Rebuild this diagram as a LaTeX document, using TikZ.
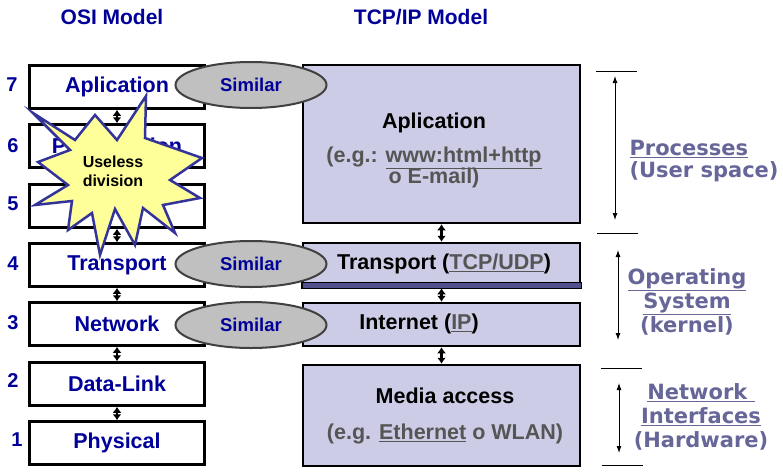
\documentclass[tikz,border=0pt]{standalone}
\usepackage{fontspec}
\setmainfont{Liberation Sans}
\newfontfamily\sidefont{DejaVu Sans}
\usepackage{tikz}
\usetikzlibrary{positioning,shapes.geometric,arrows.meta}

\definecolor{osiblue}{RGB}{0,0,153}
\definecolor{tcpfill}{RGB}{204,204,230}
\definecolor{tcpbar}{RGB}{80,80,140}
\definecolor{egray}{RGB}{85,85,85}
\definecolor{simfill}{RGB}{192,192,192}
\definecolor{simline}{RGB}{64,64,64}
\definecolor{burstfill}{RGB}{255,255,153}
\definecolor{burstline}{RGB}{51,51,153}
\definecolor{sidetext}{RGB}{102,102,153}

\begin{document}
\begin{tikzpicture}[x=1pt,y=-1pt,
  osi/.style={draw,line width=2.5pt,minimum width=175pt,minimum height=43pt,inner sep=0pt,
    font=\fontsize{21.5}{24}\selectfont\bfseries,text=osiblue},
  tcp/.style={draw,line width=2.5pt,fill=tcpfill,minimum width=277pt,inner sep=0pt},
  num/.style={font=\fontsize{20}{22}\selectfont\bfseries,text=osiblue},
  title/.style={font=\fontsize{21}{24}\selectfont\bfseries,text=osiblue},
  link/.style={{Latex[length=6pt,width=9pt]}-{Latex[length=6pt,width=9pt]},line width=2.2pt},
  similar/.style={ellipse,draw=simline,line width=2pt,fill=simfill,minimum width=151pt,minimum height=46pt,
    font=\fontsize{18.5}{20}\selectfont\bfseries,text=osiblue},
  big/.style={font=\fontsize{21.5}{24}\selectfont\bfseries},
  side/.style={font=\fontsize{21}{24}\selectfont\sidefont\bfseries,text=sidetext},
  span/.style={{Latex[length=7pt,width=5pt]}-{Latex[length=7pt,width=5pt]},line width=0.9pt},
  tick/.style={line width=0.9pt}
]
\useasboundingbox (0,0) rectangle (783,471);

% titles
\node[title] (osiT) at (112,17) {OSI Model};
\node[title] (tcpT) at (421,17) {TCP/IP Model};

% OSI layers
\node[osi] (L7) at (117,87) {Aplication};
\node[osi] (L6) at (117,146) {Presentation};
\node[osi] (L5) at (117,206) {};
\node[osi] (L4) at (117,265) {Transport};
\node[osi] (L3) at (117,324) {Network};
\node[osi] (L2) at (117,384) {Data-Link};
\node[osi] (L1) at (117,443) {Physical};

\node[num] (n7) at (12,85) {7};
\node[num] (n6) at (13,146) {6};
\node[num] (n5) at (13,204) {5};
\node[num] (n4) at (13,264) {4};
\node[num] (n3) at (13,323) {3};
\node[num] (n2) at (13,381) {2};
\node[num] (n1) at (17,440) {1};

\draw[link] (L7)--(L6);
\draw[link] (L6)--(L5);
\draw[link] (L5)--(L4);
\draw[link] (L4)--(L3);
\draw[link] (L3)--(L2);
\draw[link] (L2)--(L1);

% TCP/IP layers
\node[tcp,minimum height=158pt] (apl) at (441.5,144) {};
\node[big,align=center] (aplT) at (434,150) {Aplication\\[10pt]
  \color{egray}(e.g.: \underline{www:html+http}\\[-3pt]\color{egray}o E-mail)};
\node[tcp,minimum height=44pt] (tra) at (441.5,265) {};
\draw[line width=1.5pt,fill=tcpbar] ([yshift=6pt]tra.south west) rectangle (tra.south east);
\node[big] (traT) at (444,264) {Transport ({\color{egray}\underline{TCP/UDP}})};
\node[tcp,minimum height=43pt] (int) at (441.5,324.5) {};
\node[big] (intT) at (419,324) {Internet ({\color{egray}\underline{IP}})};
\node[tcp,minimum height=101pt] (med) at (441.5,415.5) {};
\node[big,align=center] (medT) at (445,416) {Media access\\[12pt]
  \color{egray}(e.g. \underline{Ethernet} o WLAN)};

\draw[link] (apl)--(tra);
\draw[link] (tra)--(int);
\draw[link] (int)--(med);

% useless division
\draw[line width=2.5pt,draw=burstline,fill=burstfill,line join=miter]
  (146,96) -- (145,138) -- (202,158) -- (170,180) -- (200,198) -- (163,205) --
  (175,233) -- (143,208) -- (135,245) -- (115,209) -- (100,255) -- (92,213) --
  (68,230) -- (72,201) -- (35,205) -- (68,185) -- (38,162) -- (70,150) --
  (33,113) -- (75,140) -- (95,115) -- (117,140) -- cycle;
\node[font=\fontsize{16}{19}\selectfont\bfseries,align=center] (burst) at (113,171) {Useless\\division};

% similar
\node[similar] (s1) at (251,85) {Similar};
\node[similar] (s2) at (251,264) {Similar};
\node[similar] (s3) at (251,325) {Similar};

% right side
\coordinate (t1a) at (596,71);  \coordinate (t1b) at (637,71);
\coordinate (t2a) at (597,233); \coordinate (t2b) at (638,233);
\coordinate (t3a) at (601,368); \coordinate (t3b) at (642,368);
\coordinate (t4a) at (602,465); \coordinate (t4b) at (643,465);
\draw[tick] (t1a)--(t1b);
\draw[tick] (t2a)--(t2b);
\draw[tick] (t3a)--(t3b);
\draw[tick] (t4a)--(t4b);

\coordinate (p1) at (615,76);  \coordinate (p2) at (615,220);
\coordinate (o1) at (618,250); \coordinate (o2) at (618,340);
\coordinate (h1) at (619,383); \coordinate (h2) at (619,453);
\draw[span] (p1)--(p2);
\draw[span] (o1)--(o2);
\draw[span] (h1)--(h2);

\node[side,align=left,anchor=west,font=\fontsize{21}{22}\selectfont\sidefont\bfseries] (proc) at (626,161)
  {\underline{Processes}\\(User space)};
\node[side,align=center] (os) at (687,302) {\underline{Operating}\\\underline{System}\\(kernel)};
\node[side,align=center] (hw) at (701,417) {\underline{Network\ }\\\underline{Interfaces}\\(Hardware)};

\end{tikzpicture}
\end{document}
